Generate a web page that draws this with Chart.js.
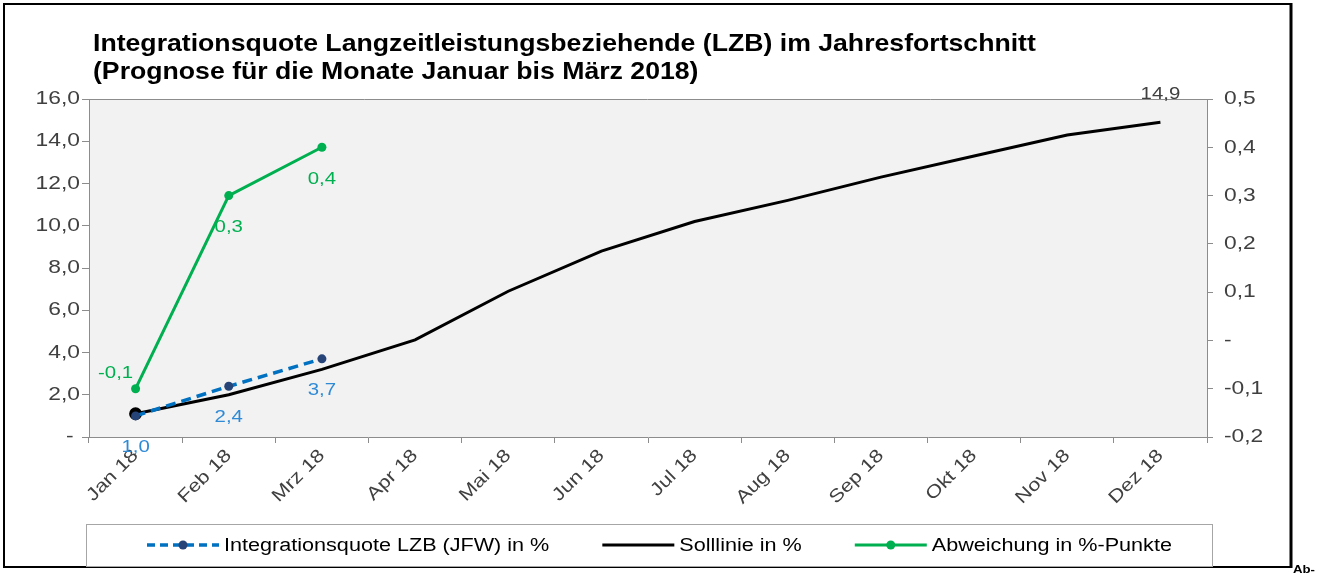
<!DOCTYPE html>
<html><head><meta charset="utf-8">
<script src="https://cdn.jsdelivr.net/npm/chart.js@4"></script>
<style>html,body{margin:0;padding:0;background:#fff}#wrap{width:1328px;height:574px}</style>
</head><body><div id="wrap"><canvas id="c" width="1328" height="574"></canvas></div>
<script>
const categories = ['Jan 18','Feb 18','Mrz 18','Apr 18','Mai 18','Jun 18','Jul 18','Aug 18','Sep 18','Okt 18','Nov 18','Dez 18'];
const istValues = [1.0, 2.4, 3.7, null, null, null, null, null, null, null, null, null];
const sollValues = [1.1, 2.0, 3.2, 4.6, 6.9, 8.8, 10.2, 11.2, 12.3, 13.3, 14.3, 14.9];
const abweichungValues = [-0.1, 0.3, 0.4, null, null, null, null, null, null, null, null, null];
const leftTicks = [0, 2, 4, 6, 8, 10, 12, 14, 16];
const rightTicks = [-0.2, -0.1, 0, 0.1, 0.2, 0.3, 0.4, 0.5];
const seriesNames = ['Integrationsquote LZB (JFW) in %', 'Solllinie in %', 'Abweichung in %-Punkte'];
const titleLines = ['Integrationsquote Langzeitleistungsbeziehende (LZB) im Jahresfortschnitt', '(Prognose für die Monate Januar bis März 2018)'];
const cornerNote = 'Ab-';

const FONT = "'Liberation Sans', Arial, sans-serif";
const TEXT_STRETCH = 1.2;
const TITLE_STRETCH = 1.11;
const TITLE_SIZE = 24;
const fmt = v => Math.abs(v) < 1e-9 ? '-' : v.toFixed(1).replace('.', ',');

const canvas = document.getElementById('c');
const ctx0 = canvas.getContext('2d');
const nativeFillText = ctx0.fillText;
ctx0.fillText = function (t, x, y, mw) {
  const s = this.font.indexOf('bold ' + TITLE_SIZE + 'px') >= 0 ? TITLE_STRETCH : TEXT_STRETCH;
  this.save();
  this.translate(x, y);
  this.scale(s, 1);
  if (mw === undefined) nativeFillText.call(this, t, 0, 0);
  else nativeFillText.call(this, t, 0, 0, mw / s);
  this.restore();
};

const frame = {
  id: 'frame',
  afterLayout(chart) {
    if (chart.titleBlock) chart.titleBlock.left = 93;
  },
  beforeDraw(chart) {
    const ctx = chart.ctx, a = chart.chartArea;
    ctx.save();
    ctx.fillStyle = '#fff';
    ctx.fillRect(0, 0, chart.width, chart.height);
    ctx.strokeStyle = '#000';
    ctx.lineWidth = 2;
    ctx.beginPath();
    ctx.moveTo(3, 4); ctx.lineTo(1291, 4);
    ctx.moveTo(3, 567); ctx.lineTo(1291, 567);
    ctx.moveTo(4, 3); ctx.lineTo(4, 568);
    ctx.stroke();
    ctx.lineWidth = 3;
    ctx.beginPath();
    ctx.moveTo(1291, 3); ctx.lineTo(1291, 568);
    ctx.stroke();
    ctx.fillStyle = '#f2f2f2';
    ctx.fillRect(a.left, a.top, a.right - a.left, a.bottom - a.top);
    ctx.strokeStyle = '#8c8c8c';
    ctx.lineWidth = 1;
    ctx.beginPath();
    ctx.moveTo(a.left - 7, a.top + 0.5);
    ctx.lineTo(a.right + 6, a.top + 0.5);
    ctx.stroke();
    ctx.restore();
  },
  afterDraw(chart) {
    const ctx = chart.ctx;
    ctx.save();
    ctx.strokeStyle = '#a6a6a6';
    ctx.lineWidth = 1;
    ctx.strokeRect(86.5, 524.5, 1126, 42);
    ctx.font = '18px ' + FONT;
    ctx.textBaseline = 'middle';
    ctx.textAlign = 'left';
    let x = 147;
    const y = 545;
    chart.data.datasets.forEach((ds) => {
      ctx.save();
      ctx.strokeStyle = ds.borderColor;
      ctx.lineWidth = ds.borderWidth;
      ctx.setLineDash(ds.legendDash || []);
      ctx.beginPath();
      ctx.moveTo(x, y); ctx.lineTo(x + 72, y);
      ctx.stroke();
      ctx.restore();
      if (ds.legendMarker) {
        ctx.beginPath();
        ctx.fillStyle = ds.pointBackgroundColor;
        ctx.arc(x + 36, y, 4.5, 0, Math.PI * 2);
        ctx.fill();
      }
      ctx.fillStyle = '#000';
      ctx.fillText(ds.label, x + 77, y + 1);
      x += 77 + ctx.measureText(ds.label).width * TEXT_STRETCH + 53;
    });
    ctx.font = 'bold 11px ' + FONT;
    ctx.fillStyle = '#000';
    ctx.textBaseline = 'bottom';
    ctx.textAlign = 'left';
    ctx.fillText(cornerNote, 1293, 575);
    ctx.restore();
  }
};

const valueLabels = {
  id: 'valueLabels',
  afterDatasetsDraw(chart) {
    const ctx = chart.ctx;
    ctx.save();
    ctx.font = '17px ' + FONT;
    ctx.textAlign = 'center';
    ctx.textBaseline = 'middle';
    chart.data.datasets.forEach((ds, i) => {
      const lab = ds.valueLabels;
      if (!lab) return;
      const meta = chart.getDatasetMeta(i);
      meta.data.forEach((pt, j) => {
        const v = ds.data[j];
        if (v === null || v === undefined) return;
        if (lab.only && !lab.only.includes(j)) return;
        const off = (lab.offsets && lab.offsets[j]) || lab.offset;
        ctx.fillStyle = lab.color;
        ctx.fillText(fmt(v), pt.x + off[0], pt.y + off[1]);
      });
    });
    ctx.restore();
  }
};

Chart.defaults.font.family = FONT;
Chart.defaults.color = '#404040';

new Chart(canvas, {
  type: 'line',
  data: {
    labels: categories,
    datasets: [
      {
        label: seriesNames[0], data: istValues, yAxisID: 'y',
        borderColor: '#0070c0', borderWidth: 3.5, borderDash: [10, 6], legendDash: [8, 5],
        pointRadius: 4.5, pointBackgroundColor: '#264478', pointBorderColor: '#264478', pointBorderWidth: 0,
        fill: false, tension: 0, order: 1, legendMarker: true,
        valueLabels: { color: '#2f8ad6', offset: [0, 31] }
      },
      {
        label: seriesNames[1], data: sollValues, yAxisID: 'y',
        borderColor: '#000000', borderWidth: 3,
        pointRadius: [5, 0, 0, 0, 0, 0, 0, 0, 0, 0, 0, 0], pointBackgroundColor: '#000', pointBorderColor: '#000',
        fill: false, tension: 0, order: 2,
        valueLabels: { color: '#404040', only: [11], offset: [0, -28] }
      },
      {
        label: seriesNames[2], data: abweichungValues, yAxisID: 'y1',
        borderColor: '#00b050', borderWidth: 3,
        pointRadius: 4.5, pointBackgroundColor: '#00b050', pointBorderColor: '#00b050', pointBorderWidth: 0,
        fill: false, tension: 0, order: 0, legendMarker: true,
        valueLabels: { color: '#00b050', offset: [0, 32], offsets: { 0: [-20, -15] } }
      }
    ]
  },
  options: {
    responsive: false,
    animation: false,
    devicePixelRatio: 1,
    layout: { padding: { left: 0, right: 0, top: 0, bottom: 57 } },
    plugins: {
      tooltip: { enabled: false },
      legend: { display: false },
      title: {
        display: true, text: titleLines, align: 'start', color: '#000',
        font: { size: TITLE_SIZE, weight: 'bold', family: FONT, lineHeight: 28 / TITLE_SIZE },
        padding: { top: 30, bottom: 13 }
      }
    },
    scales: {
      x: {
        type: 'category', offset: true,
        grid: { display: true, drawOnChartArea: false, offset: true, color: '#8c8c8c', tickLength: 6 },
        border: { display: true, color: '#8c8c8c', width: 1 },
        ticks: { minRotation: 45, maxRotation: 45, autoSkip: false, font: { size: 18 }, color: '#404040', padding: 2 },
        afterFit(s) { s.height = 80; }
      },
      y: {
        position: 'left', min: 0, max: 16,
        afterBuildTicks(s) { s.ticks = leftTicks.map(v => ({ value: v })); },
        grid: { display: true, drawOnChartArea: false, color: '#8c8c8c', tickLength: 7 },
        border: { display: true, color: '#8c8c8c', width: 1 },
        ticks: { font: { size: 19 }, color: '#404040', padding: 2, callback: v => Math.abs(v) < 1e-9 ? '- ' : fmt(v) },
        afterFit(s) { s.width = 89; }
      },
      y1: {
        position: 'right', min: -0.2, max: 0.5,
        afterBuildTicks(s) { s.ticks = rightTicks.map(v => ({ value: v })); },
        grid: { display: true, drawOnChartArea: false, color: '#8c8c8c', tickLength: 6 },
        border: { display: true, color: '#8c8c8c', width: 1 },
        ticks: { font: { size: 19 }, color: '#404040', padding: 11, callback: v => fmt(v) },
        afterFit(s) { s.width = 1328 - 1207; }
      }
    }
  },
  plugins: [frame, valueLabels]
});
</script>
</body></html>
